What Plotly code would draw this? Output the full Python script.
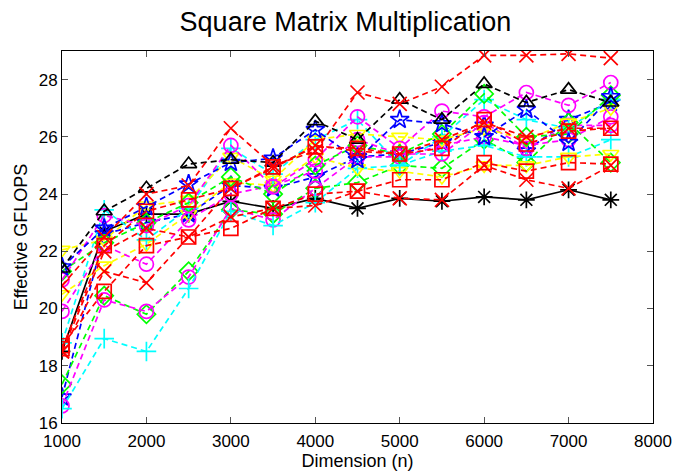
import plotly.graph_objects as go

# Matrix dimensions tested
dims = [1000, 1500, 2000, 2500, 3000, 3500, 4000, 4500, 5000, 5500, 6000, 6500, 7000, 7500]

# Measured throughput (GFLOPS) for each run configuration
black_ast = [18.5, 22.7, 23.3, 23.3, 23.75, 23.5, 23.85, 23.5, 23.85, 23.75, 23.9, 23.8, 24.15, 23.8]
black_tri = [21.4, 23.4, 24.2, 25.05, 25.2, 25.1, 26.55, 25.9, 27.3, 26.6, 27.85, 27.2, 27.65, 27.2]
red_x_high = [20.8, 22.5, 24.0, 24.3, 26.3, 25.0, 25.5, 27.55, 27.15, 27.75, 28.85, 28.85, 28.9, 28.75]
red_x_low = [18.5, 21.3, 20.9, 22.5, 23.2, 23.5, 23.6, 24.1, 23.85, 23.8, 25.0, 24.5, 24.2, 25.0]
red_sq_low = [18.7, 20.6, 22.2, 22.5, 22.8, 23.5, 24.0, 24.1, 24.5, 24.5, 25.1, 24.8, 25.1, 25.05]
red_sq_high = [18.6, 22.2, 23.4, 23.8, 24.2, 24.95, 25.65, 25.6, 25.4, 25.6, 26.6, 25.75, 26.2, 26.3]
red_x_mid = [18.5, 22.0, 22.8, 22.5, 24.2, 24.9, 25.7, 25.5, 25.4, 25.9, 26.5, 26.0, 26.3, 26.3]
blue_star_high = [21.45, 22.8, 23.55, 24.35, 25.1, 25.25, 26.25, 25.2, 26.6, 26.45, 26.0, 26.95, 25.8, 27.4]
blue_star_low = [16.9, 22.6, 23.0, 23.3, 24.3, 24.2, 24.6, 25.3, 25.4, 25.8, 26.4, 25.5, 26.6, 27.2]
green_dia_low = [17.35, 20.45, 19.8, 21.3, 23.45, 23.3, 24.2, 24.4, 25.0, 24.9, 25.9, 25.1, 26.5, 25.1]
green_dia_high = [21.3, 22.3, 23.0, 23.7, 24.6, 24.0, 25.0, 25.7, 25.4, 26.1, 27.5, 26.0, 26.1, 27.45]
mag_o_low = [16.6, 20.3, 19.9, 21.1, 23.5, 23.1, 24.2, 25.3, 25.3, 25.7, 26.0, 25.7, 25.9, 26.7]
mag_o_mid = [19.9, 22.2, 21.55, 23.1, 24.0, 24.3, 24.8, 25.9, 25.4, 25.4, 26.5, 25.6, 26.4, 26.4]
mag_o_high = [21.0, 23.25, 22.9, 23.6, 25.7, 24.25, 25.2, 26.7, 25.6, 26.9, 26.7, 27.55, 27.1, 27.9]
cyan_plus_low = [16.5, 18.95, 18.5, 20.7, 23.4, 22.9, 23.7, 24.9, 25.0, 25.5, 25.7, 25.3, 25.3, 25.9]
cyan_plus_high = [18.8, 23.45, 22.4, 23.5, 25.6, 24.7, 25.9, 26.6, 25.0, 26.0, 27.3, 26.6, 26.3, 27.3]
yellow_v_high = [22.05, 22.4, 23.6, 23.8, 25.3, 24.5, 25.9, 26.1, 26.0, 25.9, 26.3, 25.9, 26.5, 27.0]
yellow_v_low = [20.5, 21.5, 22.25, 23.3, 24.4, 24.3, 25.3, 24.9, 24.8, 24.6, 25.0, 25.0, 25.3, 25.4]

x_ticks = [1000, 2000, 3000, 4000, 5000, 6000, 7000, 8000]
y_ticks = [16, 18, 20, 22, 24, 26, 28]

BLACK, RED, BLUE, GREEN = "#000000", "#ff0000", "#0000ff", "#00ff00"
MAGENTA, CYAN, YELLOW = "#ff00ff", "#00ffff", "#ffff00"
FONT = "Liberation Sans, Arial, sans-serif"
DASH = "6px,4px"

series = [
    (black_ast, BLACK, "asterisk-open", "solid"),
    (blue_star_low, BLUE, "star-open", DASH),
    (green_dia_low, GREEN, "diamond-open", DASH),
    (mag_o_low, MAGENTA, "circle-open", DASH),
    (cyan_plus_low, CYAN, "cross-thin-open", DASH),
    (yellow_v_low, YELLOW, "triangle-down-open", DASH),
    (mag_o_mid, MAGENTA, "circle-open", DASH),
    (cyan_plus_high, CYAN, "cross-thin-open", DASH),
    (yellow_v_high, YELLOW, "triangle-down-open", DASH),
    (green_dia_high, GREEN, "diamond-open", DASH),
    (mag_o_high, MAGENTA, "circle-open", DASH),
    (blue_star_high, BLUE, "star-open", DASH),
    (black_tri, BLACK, "triangle-up-open", DASH),
    (red_sq_low, RED, "square-open", DASH),
    (red_sq_high, RED, "square-open", DASH),
    (red_x_mid, RED, "x-thin-open", DASH),
    (red_x_low, RED, "x-thin-open", DASH),
    (red_x_high, RED, "x-thin-open", DASH),
]

fig = go.Figure()
for vals, color, symbol, dash in series:
    fig.add_trace(go.Scatter(
        x=dims, y=vals, mode="lines+markers",
        line=dict(color=color, width=1.7, dash=dash),
        marker=dict(symbol=symbol, size=14, color=color,
                    line=dict(color=color, width=1.7)),
        showlegend=False,
    ))

axis_common = dict(
    showline=True, linecolor="black", linewidth=1, mirror="ticks",
    ticks="inside", ticklen=6, tickcolor="#555", tickwidth=1,
    showgrid=False, zeroline=False,
    tickfont=dict(family=FONT, size=17, color="black"),
)

fig.update_layout(
    width=684, height=476,
    margin=dict(l=62, r=27, t=51, b=50),
    paper_bgcolor="white", plot_bgcolor="white",
    title=dict(text="Square Matrix Multiplication", x=0.505, xanchor="center",
               y=0.955, yanchor="middle",
               font=dict(family=FONT, size=27, color="black")),
    xaxis=dict(range=[1000, 8000], tickvals=x_ticks, ticklabelstandoff=3,
               title=dict(text="Dimension (n)", standoff=0,
                          font=dict(family=FONT, size=18, color="black")),
               **axis_common),
    yaxis=dict(range=[16, 29], tickvals=y_ticks,
               title=dict(text="Effective GFLOPS", standoff=6,
                          font=dict(family=FONT, size=18, color="black")),
               **axis_common),
)

fig.write_html("out.html")
